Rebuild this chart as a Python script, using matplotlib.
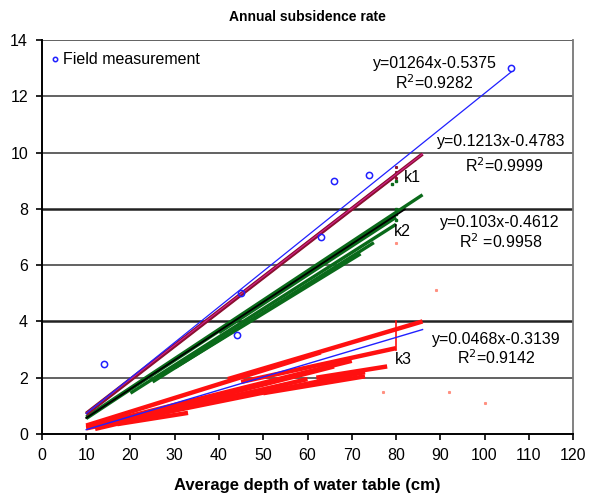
import matplotlib
matplotlib.use("Agg")
from matplotlib import pyplot as plt

plt.rcParams['font.family'] = ['Liberation Sans', 'DejaVu Sans']

# field measurements (blue circles)
field_x = [14, 44, 45, 63, 66, 74, 106]
field_y = [2.5, 3.5, 5.0, 7.0, 9.0, 9.2, 13.0]

# k1 band (dark red)
k1_strands = [
    ([10, 86], [0.73, 9.95]),
    ([10, 80], [0.70, 9.2]),
]
k1_extra_x = [80, 80, 80]
k1_extra_y = [9.1, 9.3, 9.5]

# k2 band (green), strands
k2_strands = [
    ([10, 86], [0.60, 8.5]),
    ([10, 80], [0.55, 7.8]),
    ([20, 80], [1.45, 7.45]),
    ([25, 75], [1.85, 6.8]),
    ([30, 72], [2.35, 6.4]),
    ([40, 80], [3.60, 7.7]),
]
k2_extra_x = [80, 80, 80, 79, 80]
k2_extra_y = [7.6, 7.8, 8.0, 8.9, 9.0]

# k3 band (red)
k3_strands = [
    ([10, 63], [0.30, 2.9]),
    ([10, 70], [0.25, 2.6]),
    ([10, 73], [0.20, 2.2]),
    ([12, 60], [0.18, 1.95]),
    ([20, 55], [0.55, 1.75]),
    ([30, 66], [0.95, 2.4]),
    ([42, 86], [1.95, 4.0]),
    ([45, 80], [1.85, 3.05]),
    ([62, 78], [2.00, 2.4]),
    ([17, 33], [0.35, 0.75]),
    ([50, 73], [1.45, 2.05]),
]
k3_vert_x = [80, 80]
k3_vert_y = [3.0, 4.0]
stray_x = [80, 89, 77, 92, 100]
stray_y = [6.8, 5.1, 1.5, 1.5, 1.1]

# trend lines: coefficients from the labels, x range of each
trend_field = (0.1264, -0.5375, [10, 106])
trend_k1 = (0.1213, -0.4783, [10, 86])
trend_k2 = (0.103, -0.4612, [10, 82])
trend_k3 = (0.0468, -0.3139, [10, 86])

fig = plt.figure(figsize=(5.93, 4.97), dpi=100)
ax = fig.add_axes([0.0708, 0.1268, 0.8955, 0.7927])

for xs, ys in k3_strands:
    ax.plot(xs, ys, color="#ff1010", lw=3.2, solid_capstyle="butt", zorder=2)
ax.plot(k3_vert_x, k3_vert_y, color="#ff1010", lw=1.2, zorder=2)
ax.plot(stray_x, stray_y, ls="none", marker="s", ms=1.2, color="#ff9080", zorder=2)

for xs, ys in k2_strands:
    ax.plot(xs, ys, color="#0a6a1a", lw=2.4, solid_capstyle="butt", zorder=3)
ax.plot(k2_extra_x, k2_extra_y, ls="none", marker="s", ms=1.5, color="#0a6a1a", zorder=3)

for xs, ys in k1_strands:
    ax.plot(xs, ys, color="#8b1030", lw=2.6, solid_capstyle="butt", zorder=4)
ax.plot(k1_extra_x, k1_extra_y, ls="none", marker="s", ms=1.2, color="#8b1030", zorder=4)


def trend(coef, color, lw, z):
    a, b, xr = coef
    ax.plot(xr, [a * xr[0] + b, a * xr[1] + b], color=color, lw=lw, zorder=z)


trend(trend_k2, "black", 1.3, 5)
trend(trend_k1, "#d0208a", 0.8, 5)
trend(trend_k3, "#2020ff", 1.0, 5)
trend(trend_field, "#2020ff", 0.9, 5)

ax.plot(field_x, field_y, ls="none", marker="o", ms=4.5, mfc="none", mec="#2020ff",
        mew=1.1, label="Field measurement", zorder=6)

# equation labels
fs = 11.5
ax.text(88.7, 13.18, "y=01264x-0.5375", ha="center", va="center", fontsize=fs)
ax.text(88.7, 12.5, "R$^2$=0.9282", ha="center", va="center", fontsize=fs)
ax.text(103.8, 10.41, "y=0.1213x-0.4783", ha="center", va="center", fontsize=fs)
ax.text(104.4, 9.52, "R$^2$=0.9999", ha="center", va="center", fontsize=fs)
ax.text(103.5, 7.53, "y=0.103x-0.4612", ha="center", va="center", fontsize=fs)
ax.text(103.7, 6.82, "R$^2$ =0.9958", ha="center", va="center", fontsize=fs)
ax.text(102.7, 3.37, "y=0.0468x-0.3139", ha="center", va="center", fontsize=fs)
ax.text(102.6, 2.7, "R$^2$=0.9142", ha="center", va="center", fontsize=fs)
ax.text(81.8, 9.13, "k1", ha="left", va="center", fontsize=fs)
ax.text(79.5, 7.2, "k2", ha="left", va="center", fontsize=fs)
ax.text(79.8, 2.63, "k3", ha="left", va="center", fontsize=fs)

ax.set_xlim(0, 120)
ax.set_ylim(0, 14)
ax.set_xticks(range(0, 121, 10))
ax.set_yticks(range(0, 15, 2))
ax.tick_params(labelsize=11.5, direction="out", length=4, width=1.2)
ax.tick_params(axis="x", pad=6)
ax.tick_params(axis="y", pad=6)
for yv in [2, 6, 10, 12, 14]:
    ax.axhline(yv, color="#555555", lw=1.3, zorder=1)
for yv in [4, 8]:
    ax.axhline(yv, color="#222222", lw=1.8, zorder=1)
ax.spines["left"].set_linewidth(1.4)
ax.spines["bottom"].set_linewidth(1.4)
ax.spines["right"].set_color("#777777")
ax.spines["right"].set_linewidth(1.3)
ax.spines["top"].set_visible(False)

ax.set_title("Annual subsidence rate", fontsize=10, fontweight="bold", pad=14)
ax.set_xlabel("Average depth of water table (cm)", fontsize=12, fontweight="bold", labelpad=11)

ax.legend(loc="upper left", bbox_to_anchor=(0.003, 0.985), frameon=False, fontsize=11.5,
          handletextpad=0.2, handlelength=0.6, markerscale=0.7, borderaxespad=0)

fig.savefig("out.png", dpi=100)
